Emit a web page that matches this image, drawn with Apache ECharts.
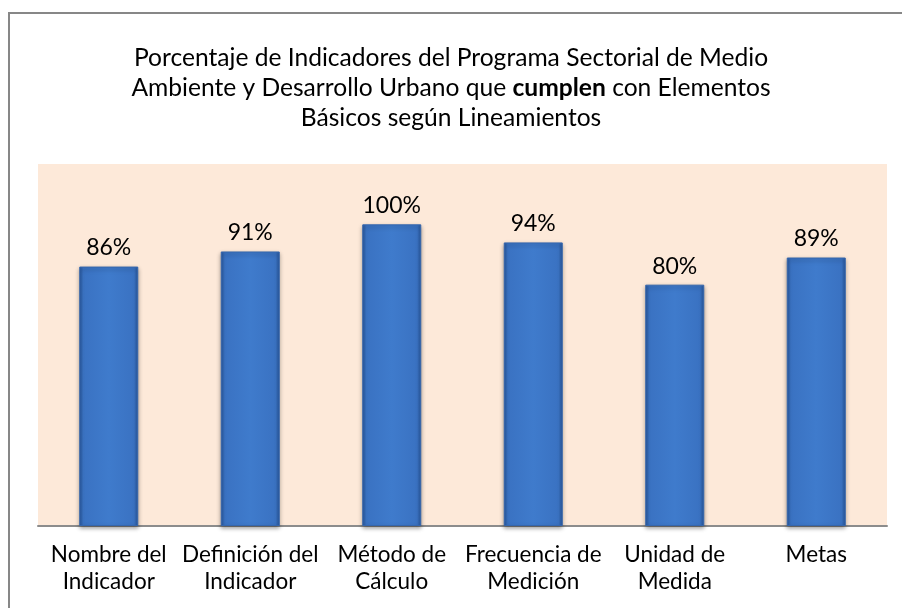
<!DOCTYPE html>
<html>
<head>
<meta charset="utf-8">
<script src="https://cdn.jsdelivr.net/npm/echarts@6/dist/echarts.min.js"></script>
<style>
  html, body { margin: 0; padding: 0; background: #fff; }
  #wrap { position: relative; width: 902px; height: 608px; overflow: hidden; }
  #chart { width: 902px; height: 608px; }
  #frame { position: absolute; left: 8px; top: 12px; width: 1000px; height: 1000px;
           border-left: 2px solid #878787; border-top: 2px solid #878787; pointer-events: none; }
</style>
</head>
<body>
<div id="wrap">
  <div id="chart"></div>
  <div id="frame"></div>
</div>
<script>
const categories = ['Nombre del\nIndicador', 'Definición del\nIndicador', 'Método de\nCálculo',
  'Frecuencia de\nMedición', 'Unidad de\nMedida', 'Metas'];
const percentValues = [86, 91, 100, 94, 80, 89];

const fontFamily = 'Lato, "Open Sans", sans-serif';

const chart = echarts.init(document.getElementById('chart'), null, { renderer: 'canvas' });

chart.setOption({
  backgroundColor: '#fff',
  animation: false,
  title: {
    left: 'center',
    top: 38,
    text: 'Porcentaje de Indicadores del Programa Sectorial de Medio\nAmbiente y Desarrollo Urbano que {b|cumplen} con Elementos\nBásicos según Lineamientos',
    textStyle: {
      fontFamily, fontSize: 24.6, fontWeight: 'normal', color: '#000', lineHeight: 30, align: 'center',
      rich: { b: { fontFamily, fontSize: 24.6, fontWeight: 'bold', color: '#000', lineHeight: 30 } }
    }
  },
  grid: { left: 38, right: 15, top: 164, bottom: 82, show: true, backgroundColor: '#FDE9D9', borderWidth: 0 },
  xAxis: {
    type: 'category',
    data: categories,
    axisLine: { lineStyle: { color: '#8c8c8c', width: 2 } },
    axisTick: { show: false },
    axisLabel: { color: '#000', fontFamily, fontSize: 22.5, lineHeight: 27, margin: 15, interval: 0 }
  },
  yAxis: { type: 'value', min: 0, max: 120, show: false, splitLine: { show: false } },
  series: [{
    type: 'bar',
    data: percentValues,
    barWidth: 59,
    itemStyle: {
      color: new echarts.graphic.LinearGradient(0, 0, 1, 0, [
        { offset: 0, color: '#27559a' },
        { offset: 0.07, color: '#3a72c2' },
        { offset: 0.5, color: '#3f7bcc' },
        { offset: 0.93, color: '#3a72c2' },
        { offset: 1, color: '#27559a' }
      ]),
      borderColor: '#3566ad',
      borderWidth: 1,
      shadowColor: 'rgba(0,0,0,0.35)',
      shadowBlur: 4,
      shadowOffsetY: 2
    },
    label: {
      show: true, position: 'top', distance: 7, color: '#000', fontFamily, fontSize: 23,
      formatter: p => p.value + '%'
    }
  }]
});
</script>
</body>
</html>
